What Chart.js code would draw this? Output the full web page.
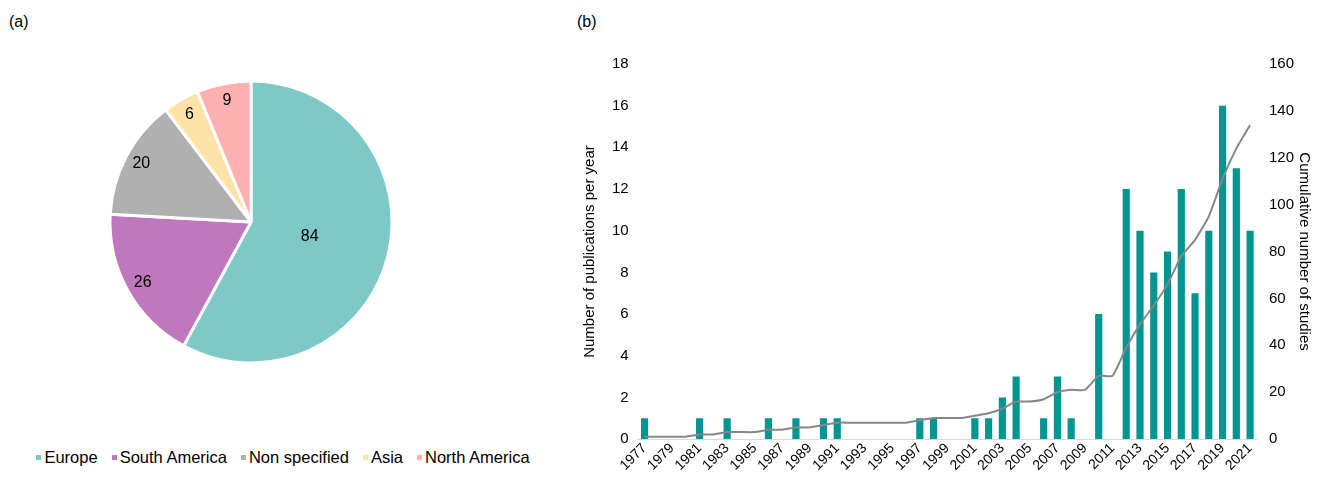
<!DOCTYPE html>
<html>
<head>
<meta charset="utf-8">
<script src="https://cdn.jsdelivr.net/npm/chart.js@4.4.1/dist/chart.umd.min.js"></script>
<style>
    body { margin: 0; width: 1320px; height: 478px; position: relative; background: #fff; overflow: hidden;
           font-family: "Liberation Sans", Arial, sans-serif; color: #000; }
    .panel { position: absolute; top: 13px; font-size: 16px; }
    #pieBox { position: absolute; left: 0; top: 0; }
    #barBox { position: absolute; left: 572px; top: 0; }
    #legend { position: absolute; left: 0; width: 566px; top: 448px; text-align: center; font-size: 16.5px; white-space: nowrap; }
    .item { display: inline-block; margin: 0 7px; }
    .sw { display: inline-block; width: 5px; height: 5px; margin-right: 3px; vertical-align: middle; position: relative; top: -1px; }
</style>
</head>
<body>
<div class="panel" style="left:9px">(a)</div>
<div class="panel" style="left:577px">(b)</div>
<div id="pieBox"><canvas id="pieChart" width="502" height="444"></canvas></div>
<div id="legend"></div>
<div id="barBox"><canvas id="barChart" width="748" height="478"></canvas></div>

<script>
// (a) studies per region
const regions = ['Europe', 'South America', 'Non specified', 'Asia', 'North America'];
const studies = [84, 26, 20, 6, 9];
const regionColors = ['#7fc8c8', '#bf77bd', '#b0b0b0', '#fde3a8', '#ffb1b1'];

// (b) publications per year + cumulative
const years = ['1977', '1978', '1979', '1980', '1981', '1982', '1983', '1984', '1985', '1986',
    '1987', '1988', '1989', '1990', '1991', '1992', '1993', '1994', '1995', '1996',
    '1997', '1998', '1999', '2000', '2001', '2002', '2003', '2004', '2005', '2006',
    '2007', '2008', '2009', '2010', '2011', '2012', '2013', '2014', '2015', '2016',
    '2017', '2018', '2019', '2020', '2021'];
const publications = [1, 0, 0, 0, 1, 0, 1, 0, 0, 1,
    0, 1, 0, 1, 1, 0, 0, 0, 0, 0,
    1, 1, 0, 0, 1, 1, 2, 3, 0, 1,
    3, 1, 0, 6, 0, 12, 10, 8, 9, 12,
    7, 10, 16, 13, 10];
const cumulative = [1, 1, 1, 1, 2, 2, 3, 3, 3, 4,
    4, 5, 5, 6, 7, 7, 7, 7, 7, 7,
    8, 9, 9, 9, 10, 11, 13, 16, 16, 17,
    20, 21, 21, 27, 27, 39, 49, 57, 66, 78,
    85, 95, 111, 124, 134];

const FONT = '"Liberation Sans", Arial, sans-serif';

// legend for the pie
const legend = document.getElementById('legend');
regions.forEach((name, i) => {
    const item = document.createElement('span');
    item.className = 'item';
    item.innerHTML = '<span class="sw" style="background:' + regionColors[i] + '"></span>' + name;
    legend.appendChild(item);
});

// value labels inside the slices
const pieLabels = {
    id: 'pieLabels',
    afterDatasetsDraw(chart) {
        const ctx = chart.ctx;
        const values = chart.data.datasets[0].data;
        ctx.save();
        ctx.font = '16px ' + FONT;
        ctx.fillStyle = '#000';
        ctx.textAlign = 'center';
        ctx.textBaseline = 'middle';
        chart.getDatasetMeta(0).data.forEach((arc, i) => {
            const p = arc.getProps(['x', 'y', 'startAngle', 'endAngle', 'outerRadius']);
            const mid = (p.startAngle + p.endAngle) / 2;
            const k = (p.endAngle - p.startAngle) > Math.PI ? 0.43 : 0.88;
            ctx.fillText(values[i], p.x + Math.cos(mid) * p.outerRadius * k,
                p.y + Math.sin(mid) * p.outerRadius * k);
        });
        ctx.restore();
    }
};

new Chart(document.getElementById('pieChart'), {
    type: 'pie',
    data: {
        labels: regions,
        datasets: [{
            data: studies,
            backgroundColor: regionColors,
            borderColor: '#fff',
            borderWidth: 3
        }]
    },
    options: {
        responsive: false,
        animation: false,
        radius: 141,
        layout: { padding: 0 },
        plugins: {
            legend: { display: false },
            tooltip: { enabled: false }
        }
    },
    plugins: [pieLabels]
});

new Chart(document.getElementById('barChart'), {
    data: {
        labels: years,
        datasets: [
            {
                type: 'line',
                data: cumulative,
                yAxisID: 'y1',
                borderColor: '#868686',
                borderWidth: 2,
                pointRadius: 0,
                tension: 0.15
            },
            {
                type: 'bar',
                data: publications,
                yAxisID: 'y',
                backgroundColor: '#009591',
                barPercentage: 0.52,
                categoryPercentage: 1
            }
        ]
    },
    options: {
        responsive: false,
        animation: false,
        layout: { padding: { left: 5, right: 7, top: 64, bottom: 3 } },
        plugins: {
            legend: { display: false },
            tooltip: { enabled: false }
        },
        scales: {
            x: {
                grid: { display: false, drawTicks: false, tickLength: 0 },
                border: { color: '#d9d9d9', width: 1 },
                ticks: {
                    autoSkip: false,
                    minRotation: 45,
                    maxRotation: 45,
                    padding: 1,
                    color: '#000',
                    font: { family: FONT, size: 14 },
                    callback: (v, i) => i % 2 === 0 ? years[i] : ''
                }
            },
            y: {
                position: 'left',
                min: 0,
                max: 18,
                grid: { display: false, drawTicks: false },
                border: { display: false },
                ticks: { stepSize: 2, padding: 9, color: '#000', font: { family: FONT, size: 15 } },
                title: {
                    display: true,
                    text: 'Number of publications per year',
                    color: '#000',
                    font: { family: FONT, size: 15 },
                    padding: { top: 4, bottom: 4 }
                }
            },
            y1: {
                position: 'right',
                min: 0,
                max: 160,
                grid: { display: false, drawTicks: false },
                border: { display: false },
                ticks: { stepSize: 20, padding: 12, color: '#000', font: { family: FONT, size: 15 } },
                title: {
                    display: true,
                    text: 'Cumulative number of studies',
                    color: '#000',
                    font: { family: FONT, size: 15 },
                    padding: { top: 0, bottom: -11 }
                }
            }
        }
    }
});
</script>
</body>
</html>
